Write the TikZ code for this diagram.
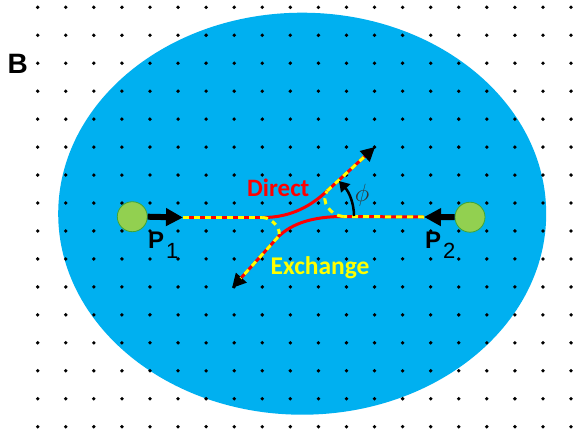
\documentclass[tikz,border=0pt]{standalone}
\usepackage{fontspec}
\setmainfont{Liberation Sans}
\newfontfamily\carl{Carlito}
\usetikzlibrary{arrows.meta}
\definecolor{skyb}{HTML}{00B0F0}
\definecolor{ballg}{HTML}{92D050}
\definecolor{ballb}{HTML}{3FA535}
\definecolor{yel}{HTML}{FFFF00}
\definecolor{rd}{HTML}{FF0000}
\tikzset{
  ball/.style={circle, fill=ballg, draw=ballb, line width=0.8pt, minimum size=30pt, inner sep=0pt},
  bigarrow/.style={line width=6pt, -{Triangle[length=17pt,width=17pt]}},
  redline/.style={draw=rd, line width=3pt},
  yelldash/.style={draw=yel, line width=3pt, dash pattern=on 6pt off 5pt},
  outarrow/.style={redline, -{Triangle[length=14pt,width=14pt,color=black]}},
  lbl/.style={inner sep=0pt, anchor=base west},
}
\begin{document}
\begin{tikzpicture}[x=1pt,y=-1pt]
\useasboundingbox (0,0) rectangle (576,432);
\fill[white] (0,0) rectangle (576,432);
\fill[skyb] (302.2,213.7) ellipse [x radius=244, y radius=201];
\foreach \i in {0,...,19} \foreach \j in {0,...,15}
  \fill[black] (37.7+28.07*\i, 7.3+27.96*\j) circle [radius=1.9];

% particles
\node[ball] (p1) at (132.3,216.7) {};
\node[ball] (p2) at (470,217.2) {};
\coordinate (p1tip) at (183,217.5);
\coordinate (p2tip) at (424,217);
\draw[bigarrow] (p1.east) -- (p1tip);
\draw[bigarrow] (p2.west) -- (p2tip);

% key points
\coordinate (a1) at (263,217.5);
\coordinate (a2) at (343,216.5);
\coordinate (u) at (327,191);
\coordinate (ut) at (375,147);
\coordinate (l) at (278,237);
\coordinate (lt) at (232,288);

% incoming dashed lines
\draw[redline] (p1tip) -- (a1);
\draw[yelldash] (p1tip) -- (a1);
\draw[redline] (p2tip) -- (a2);
\draw[yelldash] (p2tip) -- (a2);

% direct (red) curves
\draw[redline] (a1) .. controls (292,217.5) and (312,205) .. (u);
\draw[redline] (a2) .. controls (314,216.5) and (292,223) .. (l);

% exchange (yellow) curves
\draw[yelldash, dash pattern=on 5pt off 5pt] (a1) .. controls (272,218) and (283,230) .. (l);
\draw[yelldash, dash pattern=on 6pt off 5pt] (a2) .. controls (331,215.5) and (320,202) .. (u);

% outgoing rays
\draw[outarrow] (u) -- (ut);
\draw[yelldash, shorten >=13pt] (u) -- (ut);
\draw[outarrow] (l) -- (lt);
\draw[yelldash, shorten >=13pt] (l) -- (lt);

% angle phi
\coordinate (phs) at (354,216);
\coordinate (phe) at (339,181);
\draw[line width=2.5pt, -{Triangle[length=10pt,width=12pt]}] (phs) .. controls (354,203) and (349,192) .. (phe);
\node[inner sep=0pt, text=black!80] (phi) at (362,195.5) {\fontsize{28}{28}\selectfont$\phi$};

% labels
\node[lbl, text=rd] (direct) at (247,196) {\carl\bfseries\fontsize{25}{25}\selectfont Direct};
\node[lbl, text=yel] (exch) at (270.5,274.5) {\carl\bfseries\fontsize{25.5}{25.5}\selectfont Exchange};
\node[lbl] (P1) at (148,248.3) {\fontsize{24}{24}\selectfont\bfseries P\kern2pt\raisebox{-10pt}{\mdseries\fontsize{22}{22}\selectfont 1}};
\node[lbl] (P2) at (425,248.3) {\fontsize{24}{24}\selectfont\bfseries P\kern2pt\raisebox{-10pt}{\mdseries\fontsize{22}{22}\selectfont 2}};
\node[lbl] (B) at (7.5,73) {\fontsize{28}{28}\selectfont\bfseries B};
\end{tikzpicture}
\end{document}
